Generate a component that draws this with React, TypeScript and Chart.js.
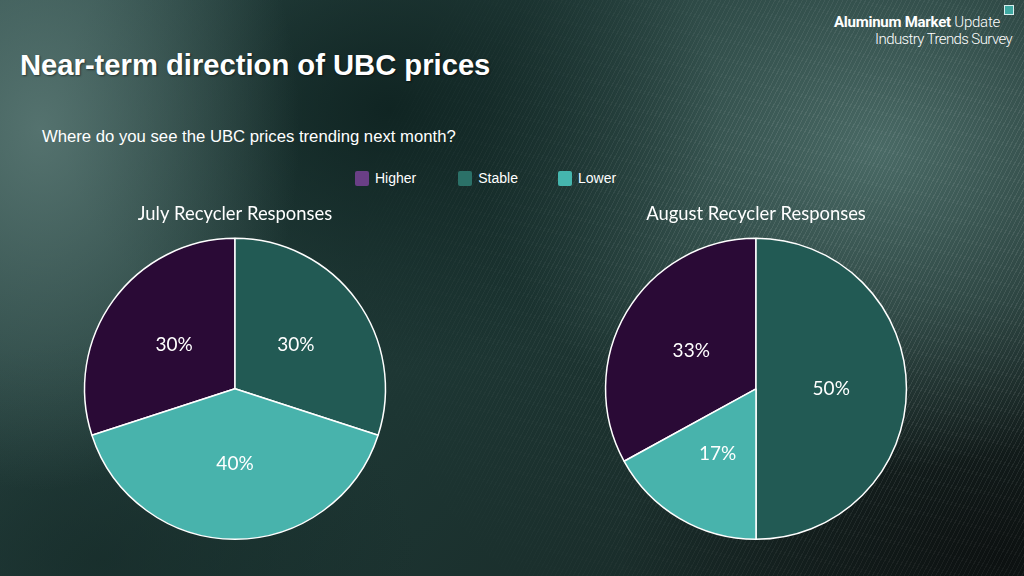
import React, { useEffect, useRef } from "react";
import { Chart, registerables } from "chart.js";

Chart.register(...registerables);

const categories = ["Higher", "Stable", "Lower"];
const julyValues = [30, 30, 40];
const augustValues = [33, 50, 17];
const chartTitles = ["July Recycler Responses", "August Recycler Responses"];
const sliceColors = ["#2a0a36", "#225a54", "#48b3ac"];
const legendColors = ["#6a3f86", "#2b7168", "#45b6ae"];

const labelPlugin = {
  id: "sliceLabels",
  afterDatasetsDraw(chart: any) {
    const { ctx } = chart;
    const meta = chart.getDatasetMeta(0);
    const data = chart.data.datasets[0].data as number[];
    ctx.save();
    ctx.fillStyle = "#ffffff";
    ctx.font = "19px Lato";
    ctx.textAlign = "center";
    ctx.textBaseline = "middle";
    meta.data.forEach((arc: any, i: number) => {
      const p = arc.getCenterPoint();
      ctx.fillText(`${data[i]}%`, p.x, p.y);
    });
    ctx.restore();
  },
};

function PieChart({ values, title }: { values: number[]; title: string }) {
  const ref = useRef<HTMLCanvasElement>(null);
  useEffect(() => {
    if (!ref.current) return;
    const total = values.reduce((a, b) => a + b, 0);
    const chart = new Chart(ref.current, {
      type: "pie",
      data: {
        labels: categories,
        datasets: [
          {
            data: values,
            backgroundColor: sliceColors,
            borderColor: "#ffffff",
            borderWidth: 1.5,
            hoverBorderWidth: 1.5,
          },
        ],
      },
      options: {
        animation: false,
        responsive: true,
        maintainAspectRatio: false,
        rotation: -(values[0] / total) * 360,
        layout: { padding: 0 },
        plugins: {
          legend: { display: false },
          tooltip: { enabled: false },
          title: {
            display: true,
            text: title,
            color: "#ffffff",
            font: { family: "Lato", size: 18.4, weight: "normal" },
            padding: { top: 3.2, bottom: 12.3 },
          },
        },
      },
      plugins: [labelPlugin],
    });
    return () => chart.destroy();
  }, [values, title]);
  return <canvas ref={ref} />;
}

export default function App() {
  return (
    <div
      style={{
        position: "fixed",
        left: 0,
        top: 0,
        width: 1024,
        height: 576,
        overflow: "hidden",
        fontFamily: "'Liberation Sans', Arial, sans-serif",
        color: "#fff",
        backgroundColor: "#1c3330",
        backgroundImage: [
          "radial-gradient(ellipse 260px 360px at 40px 130px, rgba(95,125,121,0.8), rgba(95,125,121,0) 100%)",
          "radial-gradient(ellipse 330px 260px at 390px 110px, rgba(14,34,32,0.9), rgba(14,34,32,0) 100%)",
          "radial-gradient(ellipse 400px 320px at 880px 150px, rgba(85,120,115,0.8), rgba(85,120,115,0) 100%)",
          "radial-gradient(ellipse 380px 260px at 1000px 560px, rgba(12,16,16,0.95), rgba(12,16,16,0) 100%)",
          "radial-gradient(ellipse 320px 220px at 100px 560px, rgba(20,40,38,0.6), rgba(20,40,38,0) 100%)",
          "linear-gradient(135deg, #2e4c49 0%, #1d3633 50%, #172523 100%)",
        ].join(","),
      }}
    >
      <div
        style={{
          position: "absolute",
          inset: 0,
          backgroundImage:
            "repeating-linear-gradient(118deg, rgba(255,255,255,0.09) 0px, rgba(255,255,255,0.09) 1px, rgba(0,0,0,0) 1px, rgba(0,0,0,0) 4px)",
          WebkitMaskImage:
            "radial-gradient(ellipse 560px 480px at 900px 260px, rgba(0,0,0,1) 35%, rgba(0,0,0,0) 100%)",
          maskImage:
            "radial-gradient(ellipse 560px 480px at 900px 260px, rgba(0,0,0,1) 35%, rgba(0,0,0,0) 100%)",
        } as React.CSSProperties}
      />
      <div
        style={{
          position: "absolute",
          right: 10,
          top: 5,
          width: 10,
          height: 10,
          background: "#3fa9a2",
          border: "1px solid #d8eeee",
          boxSizing: "border-box",
        }}
      />
      <div
        style={{
          position: "absolute",
          right: 24,
          top: 14,
          fontFamily: "Roboto, sans-serif",
          fontSize: 15,
          letterSpacing: -0.25,
          lineHeight: "17px",
          whiteSpace: "nowrap",
        }}
      >
        <span style={{ fontWeight: 700 }}>Aluminum Market</span>{" "}
        <span style={{ fontWeight: 300 }}>Update</span>
      </div>
      <div
        style={{
          position: "absolute",
          right: 12,
          top: 31,
          fontFamily: "Roboto, sans-serif",
          fontSize: 15,
          fontWeight: 300,
          letterSpacing: -0.6,
          lineHeight: "17px",
          whiteSpace: "nowrap",
        }}
      >
        Industry Trends Survey
      </div>
      <div
        style={{
          position: "absolute",
          left: 20,
          top: 48,
          fontSize: 29.2,
          fontWeight: 700,
          lineHeight: "34px",
          whiteSpace: "nowrap",
          textShadow: "1px 1px 2px rgba(0,0,0,0.5)",
        }}
      >
        Near-term direction of UBC prices
      </div>
      <div
        style={{
          position: "absolute",
          left: 42,
          top: 127,
          fontSize: 16.7,
          lineHeight: "20px",
          whiteSpace: "nowrap",
        }}
      >
        Where do you see the UBC prices trending next month?
      </div>
      <div
        style={{
          position: "absolute",
          left: 355,
          top: 169,
          height: 18,
          display: "flex",
          alignItems: "center",
          fontSize: 14,
          whiteSpace: "nowrap",
        }}
      >
        {categories.map((c, i) => (
          <div
            key={c}
            style={{ display: "flex", alignItems: "center", marginRight: i === 0 ? 42 : 40 }}
          >
            <span
              style={{
                display: "inline-block",
                width: 14,
                height: 15,
                borderRadius: 2,
                background: legendColors[i],
                marginRight: 6,
              }}
            />
            <span>{c}</span>
          </div>
        ))}
      </div>
      <div style={{ position: "absolute", left: 75, top: 200, width: 320, height: 340 }}>
        <PieChart values={julyValues} title={chartTitles[0]} />
      </div>
      <div style={{ position: "absolute", left: 596, top: 200, width: 320, height: 340 }}>
        <PieChart values={augustValues} title={chartTitles[1]} />
      </div>
    </div>
  );
}
